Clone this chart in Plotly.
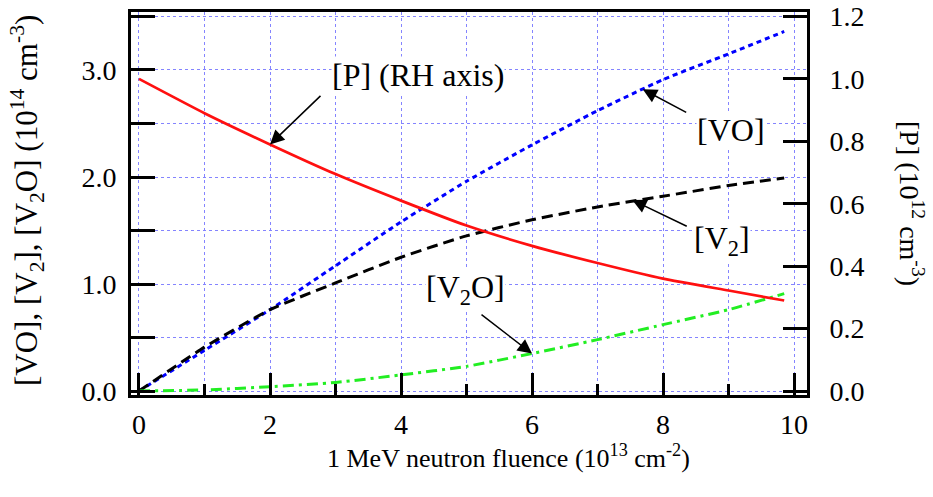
import plotly.graph_objects as go

# ---- data ----
fluence = [0, 1, 2, 3, 4, 5, 6, 7, 8, 9, 9.85]
vo = [0, 0.38, 0.76, 1.17, 1.58, 1.96, 2.30, 2.62, 2.91, 3.15, 3.36]
v2 = [0, 0.41, 0.76, 1.01, 1.25, 1.45, 1.60, 1.72, 1.82, 1.92, 1.99]
v2o = [0, 0.01, 0.04, 0.08, 0.15, 0.23, 0.35, 0.48, 0.62, 0.76, 0.91]
p = [1.0, 0.89, 0.79, 0.695, 0.61, 0.53, 0.465, 0.41, 0.36, 0.322, 0.29]

x_ticks = [0, 2, 4, 6, 8, 10]
left_ticks = [0.0, 1.0, 2.0, 3.0]
right_ticks = [0.0, 0.2, 0.4, 0.6, 0.8, 1.0, 1.2]

FONT = "Liberation Serif, DejaVu Serif, serif"
GRID = "#8484ff"
GDASH = "3px,3px"

fig = go.Figure()
fig.add_trace(go.Scatter(x=fluence, y=vo, mode="lines", line=dict(color="#0000ff", width=3, dash="5px,4px", shape="spline", smoothing=0.5), showlegend=False))
fig.add_trace(go.Scatter(x=fluence, y=v2, mode="lines", line=dict(color="#000000", width=3, dash="11px,6px", shape="spline", smoothing=0.5), showlegend=False))
fig.add_trace(go.Scatter(x=fluence, y=v2o, mode="lines", line=dict(color="#22ee22", width=3, dash="11px,5px,3px,5px", shape="spline", smoothing=0.5), showlegend=False))
fig.add_trace(go.Scatter(x=fluence, y=p, mode="lines", yaxis="y2", line=dict(color="#ff1010", width=2.7, shape="spline", smoothing=0.5), showlegend=False))

ratio = 3.5 / 1.2
ylo, yhi = -0.0374, 3.542

fig.update_layout(
    width=933, height=497,
    margin=dict(l=131, r=126, t=12, b=102, autoexpand=False),
    paper_bgcolor="white", plot_bgcolor="white",
    font=dict(family=FONT, color="black", size=28),
    xaxis=dict(
        range=[-0.122, 10.198], tickvals=x_ticks, ticks="inside", ticklen=22, tickwidth=3, tickcolor="black",
        showline=True, linewidth=3, linecolor="black", mirror=True, automargin=False,
        showgrid=True, gridcolor=GRID, gridwidth=1, griddash=GDASH, zeroline=False,
        minor=dict(dtick=1, tick0=0, ticks="inside", ticklen=11, tickwidth=3, tickcolor="black",
                   showgrid=True, gridcolor=GRID, gridwidth=1, griddash=GDASH),
        ticklabelstandoff=2, tickfont=dict(size=28),
    ),
    yaxis=dict(
        range=[ylo, yhi], tickvals=left_ticks, tickformat=".1f", ticks="inside", ticklen=24, tickwidth=3, tickcolor="black",
        showline=True, linewidth=3, linecolor="black", mirror=False, automargin=False,
        showgrid=True, gridcolor=GRID, gridwidth=1, griddash=GDASH, zeroline=False,
        minor=dict(dtick=0.5, tick0=0, ticks="inside", ticklen=24, tickwidth=3, tickcolor="black",
                   showgrid=True, gridcolor=GRID, gridwidth=1, griddash=GDASH),
        ticklabelstandoff=6, tickfont=dict(size=28),
    ),
    yaxis2=dict(
        range=[ylo / ratio, yhi / ratio], overlaying="y", side="right", tickvals=right_ticks, tickformat=".1f",
        ticks="inside", ticklen=24, tickwidth=3, tickcolor="black", automargin=False,
        showline=True, linewidth=3, linecolor="black", showgrid=False, zeroline=False,
        ticklabelstandoff=14, tickfont=dict(size=28),
    ),
)

ann = []
# axis titles
ann.append(dict(xref="paper", yref="paper", x=(508 - 131) / 676, y=(395 - 456) / 383, text="1 MeV neutron fluence (10<sup>13</sup> cm<sup>-2</sup>)",
                showarrow=False, font=dict(size=26), xanchor="center", yanchor="middle"))
ann.append(dict(xref="paper", yref="paper", x=(27 - 131) / 676, y=(395 - 201) / 383, textangle=-90,
                text="[VO], [V<sub>2</sub>], [V<sub>2</sub>O] (10<sup>14</sup> cm<sup>-3</sup>)",
                showarrow=False, font=dict(size=31), xanchor="center", yanchor="middle"))
ann.append(dict(xref="paper", yref="paper", x=(912 - 131) / 676, y=(395 - 203) / 383, textangle=90,
                text="[P] (10<sup>12</sup> cm<sup>-3</sup>)",
                showarrow=False, font=dict(size=28), xanchor="center", yanchor="middle"))

# curve labels (white boxes)
labels = [("[P] (RH axis)", 4.26, 2.95), ("[VO]", 9.04, 2.44), ("[V<sub>2</sub>]", 8.9, 1.41), ("[V<sub>2</sub>O]", 4.99, 0.95)]
for t, lx, ly in labels:
    ann.append(dict(x=lx, y=ly, xref="x", yref="y", text=t, showarrow=False, bgcolor="white",
                    font=dict(size=32), xanchor="center", yanchor="middle", borderpad=0))

# arrows
arrows = [(2.0, p[2], "y2", 52, -50), (7.69, 2.82, "y", 45, 24), (7.53, 1.785, "y", 56, 27), (6.0, v2o[6], "y", -52, -40)]
for axx, axy, yr, dx, dy in arrows:
    ann.append(dict(x=axx, y=axy, xref="x", yref=yr, text="", showarrow=True, ax=dx, ay=dy,
                    arrowhead=2, arrowsize=1.9, arrowwidth=1.5, arrowcolor="black", standoff=0))

fig.update_layout(annotations=ann)
fig.write_html("out.html", config={"displayModeBar": False},
               post_script="document.body.style.margin='0';document.body.style.overflow='hidden';")
